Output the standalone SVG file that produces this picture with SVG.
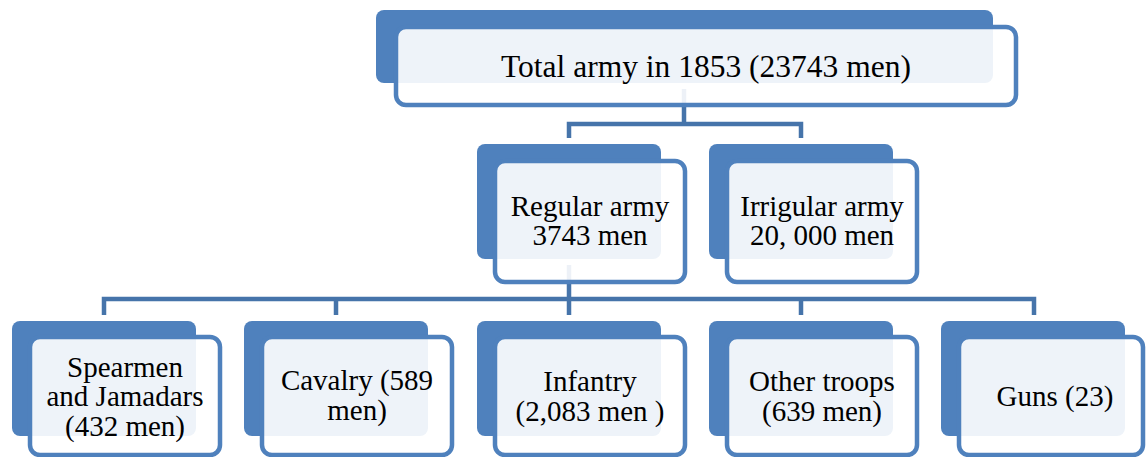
<svg xmlns="http://www.w3.org/2000/svg" width="1146" height="457" viewBox="0 0 1146 457">
<style>
.back{fill:#4F81BD}
.front{fill:#FFFFFF;fill-opacity:0.9;stroke:#4F81BD;stroke-width:4.5}
.conn{fill:none;stroke:#4674AA;stroke-width:4.5}
text{font-family:"Liberation Serif","Times New Roman",serif;fill:#000;text-anchor:middle}
.t1{font-size:31.5px}
.t2{font-size:29px}
</style>
<rect width="1146" height="457" fill="#FFFFFF"/>
<g id="backs">
<rect class="back" x="376" y="10" width="617" height="73" rx="8"/>
<rect class="back" x="477" y="144" width="184" height="115" rx="8"/>
<rect class="back" x="709" y="144" width="184" height="115" rx="8"/>
<rect class="back" x="12" y="321" width="184" height="115" rx="8"/>
<rect class="back" x="244" y="321" width="184" height="115" rx="8"/>
<rect class="back" x="477" y="321" width="184" height="115" rx="8"/>
<rect class="back" x="709" y="321" width="184" height="115" rx="8"/>
<rect class="back" x="941" y="321" width="184" height="115" rx="8"/>
</g>
<g id="connectors">
<path class="conn" d="M684 89 V124 M569 138 V124 H801 V138"/>
<path class="conn" d="M569 265 V299 M104 315 V299 H1034 V315 M336 299 V315 M569 299 V315 M801 299 V315"/>
</g>
<g id="n-total">
<rect class="front" x="396" y="27" width="620" height="78" rx="10"/>
<text class="t1" x="706" y="77">Total army in 1853 (23743 men)</text>
</g>
<g id="n-regular">
<rect class="front" x="495" y="161" width="190" height="121" rx="10"/>
<text class="t2" x="590" y="216">Regular army</text>
<text class="t2" x="590" y="245">3743 men</text>
</g>
<g id="n-irregular">
<rect class="front" x="727" y="161" width="190" height="121" rx="10"/>
<text class="t2" x="822" y="216">Irrigular army</text>
<text class="t2" x="822" y="245">20, 000 men</text>
</g>
<g id="n-spearmen">
<rect class="front" x="30" y="337" width="190" height="118" rx="10"/>
<text class="t2" x="125" y="377">Spearmen</text>
<text class="t2" x="125" y="406">and Jamadars</text>
<text class="t2" x="125" y="436">(432 men)</text>
</g>
<g id="n-cavalry">
<rect class="front" x="262" y="337" width="190" height="118" rx="10"/>
<text class="t2" x="357" y="390">Cavalry (589</text>
<text class="t2" x="357" y="420">men)</text>
</g>
<g id="n-infantry">
<rect class="front" x="495" y="337" width="190" height="118" rx="10"/>
<text class="t2" x="590" y="391">Infantry</text>
<text class="t2" x="590" y="421">(2,083 men )</text>
</g>
<g id="n-other">
<rect class="front" x="727" y="337" width="190" height="118" rx="10"/>
<text class="t2" x="822" y="391">Other troops</text>
<text class="t2" x="822" y="421">(639 men)</text>
</g>
<g id="n-guns">
<rect class="front" x="959" y="337" width="184" height="118" rx="10"/>
<text class="t2" x="1055" y="406">Guns (23)</text>
</g>
</svg>
